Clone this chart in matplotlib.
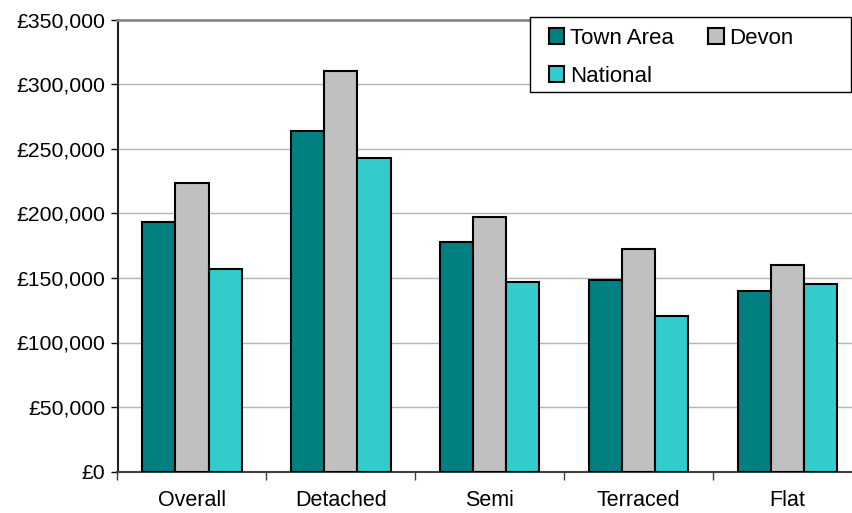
import numpy as np
import matplotlib
matplotlib.use("Agg")
import matplotlib.pyplot as plt
from matplotlib.patches import Patch, Rectangle
from matplotlib.ticker import FuncFormatter, FixedLocator

categories = ["Overall", "Detached", "Semi", "Terraced", "Flat"]
town_area = [193000, 264000, 177500, 148000, 140000]
devon = [223500, 310500, 197500, 172500, 160000]
national = [157000, 242500, 147000, 120500, 145500]

plt.rcParams["font.family"] = ["Liberation Sans", "DejaVu Sans"]

fig = plt.figure(figsize=(8.52, 5.13), dpi=100)
W, H = 852, 513
left, right, top, bottom = 117.5, 862, 19.5, 471.7
ax = fig.add_axes([left / W, (H - bottom) / H, (right - left) / W, (bottom - top) / H])

x = np.arange(len(categories))
w = 0.2225
series = [
    ("Town Area", town_area, "#008080"),
    ("Devon", devon, "#C0C0C0"),
    ("National", national, "#33CCCC"),
]
for i, (name, vals, col) in enumerate(series):
    ax.bar(x + (i - 1) * w, vals, w, color=col, edgecolor="black", linewidth=1.5, zorder=3)

ax.set_xlim(-0.5, len(categories) - 0.5)
ax.set_ylim(0, 350000)
ax.set_yticks(np.arange(0, 350001, 50000))
ax.yaxis.set_major_formatter(FuncFormatter(lambda v, p: "£{:,.0f}".format(v)))
ax.grid(axis="y", color="#b4b4b4", linewidth=1.0, zorder=0)

ax.set_xticks(x)
ax.set_xticklabels(categories)
ax.xaxis.set_minor_locator(FixedLocator(np.arange(-0.5, len(categories), 1.0)))
ax.tick_params(axis="x", which="major", length=0, pad=13, labelsize=15.5)
ax.tick_params(axis="x", which="minor", length=6, width=1, color="#404040", direction="out")
ax.tick_params(axis="y", length=5, width=1, direction="out", pad=4, labelsize=15.3)

ax.spines["right"].set_visible(False)
ax.spines["top"].set_color("#888888")
ax.spines["top"].set_linewidth(2)
ax.spines["left"].set_color("#202020")
ax.spines["left"].set_linewidth(1.5)
ax.spines["bottom"].set_color("#404040")
ax.spines["bottom"].set_linewidth(1.5)

# legend frame drawn by hand so it can span to the right edge
fig.patches.append(Rectangle((529.7 / W, 1 - 92 / H), (851.2 - 529.7) / W, (92 - 17.3) / H,
                             transform=fig.transFigure, facecolor="white",
                             edgecolor="black", linewidth=1.0, zorder=4))

handles = [Patch(facecolor=c, edgecolor="black", linewidth=1.5, label=n) for n, _, c in series]
order = [0, 2, 1]
leg = fig.legend([handles[i] for i in order], [series[i][0] for i in order],
                 ncol=2, loc="upper left", bbox_to_anchor=(540 / W, 1 - 19 / H),
                 fontsize=16, frameon=False,
                 handlelength=0.7, handleheight=0.7, handletextpad=0.25,
                 columnspacing=1.55, labelspacing=0.75, borderpad=0.4, borderaxespad=0)
leg.set_zorder(5)

fig.savefig("out.png", dpi=100)
